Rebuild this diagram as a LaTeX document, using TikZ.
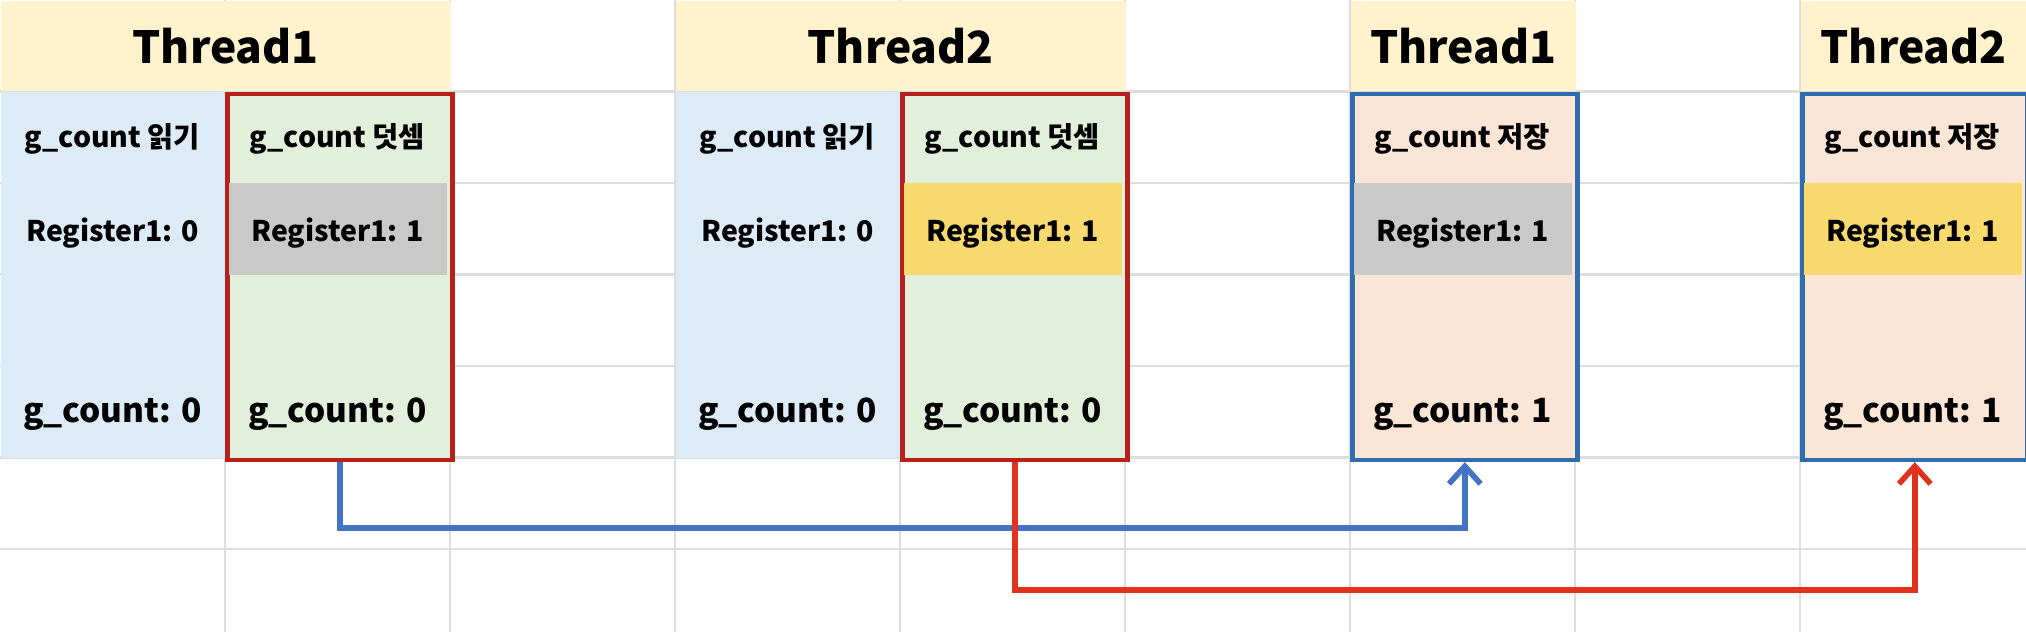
\documentclass[tikz,border=0pt]{standalone}
\usepackage{fontspec}
\setmainfont{Noto Sans CJK KR}
\usepackage{tikz}
\usetikzlibrary{positioning,arrows.meta}
\definecolor{gridgray}{HTML}{DDDDDD}
\definecolor{headfill}{HTML}{FFF2CC}
\definecolor{readfill}{HTML}{DDEBF7}
\definecolor{addfill}{HTML}{E2EFDA}
\definecolor{storefill}{HTML}{FBE5D6}
\definecolor{reggray}{HTML}{C9C9C9}
\definecolor{regyellow}{HTML}{F8D96E}
\definecolor{framered}{HTML}{B8211B}
\definecolor{frameblue}{HTML}{2E6DAE}
\definecolor{arrowblue}{HTML}{4472C4}
\definecolor{arrowred}{HTML}{E0321E}

\begin{document}
\begin{tikzpicture}[
    gridline/.style={draw=gridgray, line width=0.6pt},
    threadhead/.style={rectangle, fill=headfill, inner sep=0pt, minimum height=0.9cm, anchor=north west, font=\fontsize{12.6}{15}\selectfont\bfseries},
    colfill/.style={rectangle, fill=#1, inner sep=0pt, minimum width=2.25cm, minimum height=3.66cm, anchor=north west},
    boxframe/.style={draw=#1, line width=1.3pt},
    regband/.style={rectangle, fill=#1, inner sep=0pt, minimum width=2.18cm, minimum height=0.915cm},
    cellsmall/.style={font=\fontsize{8.1}{10}\selectfont\bfseries},
    cellbig/.style={font=\fontsize{9.5}{11}\selectfont\bfseries},
    linkarrow/.style={-{Straight Barb[length=5pt,width=9pt]}, line width=1.6pt, draw=#1}
]
\useasboundingbox (0,0) rectangle (20.26,-6.32);

\foreach \x in {1,...,8} \draw[gridline] (2.25*\x,0) -- (2.25*\x,-6.32);
\foreach \y in {1,...,6} \draw[gridline] (0,-0.915*\y) -- (20.26,-0.915*\y);

\node[threadhead, minimum width=4.5cm]  (head1) at (0,0)    {Thread1};
\node[threadhead, minimum width=4.5cm]  (head2) at (6.75,0) {Thread2};
\node[threadhead, minimum width=2.25cm] (head3) at (13.5,0) {Thread1};
\node[threadhead, minimum width=2.26cm] (head4) at (18,0)   {Thread2};

\node[colfill=readfill]                     (read1)  at (0,-0.915)    {};
\node[colfill=addfill, boxframe=framered]   (add1)   at (2.25,-0.915) {};
\node[colfill=readfill]                     (read2)  at (6.75,-0.915) {};
\node[colfill=addfill, boxframe=framered]   (add2)   at (9,-0.915)    {};
\node[colfill=storefill, boxframe=frameblue] (store1) at (13.5,-0.915) {};
\node[colfill=storefill, boxframe=frameblue] (store2) at (18,-0.915)   {};

\node[regband=reggray]   (band1) at (3.375,-2.2875)  {};
\node[regband=regyellow] (band2) at (10.125,-2.2875) {};
\node[regband=reggray]   (band3) at (14.625,-2.2875) {};
\node[regband=regyellow] (band4) at (19.125,-2.2875) {};

\node[cellsmall] (read1op)  at (1.125,-1.39)  {g\_count 읽기};
\node[cellsmall] (read1reg) at (1.125,-2.33)  {Register1: 0};
\node[cellbig]   (read1cnt) at (1.125,-4.14)  {g\_count: 0};
\node[cellsmall] (add1op)   at (3.375,-1.39)  {g\_count 덧셈};
\node[cellsmall] (add1reg)  at (3.375,-2.33)  {Register1: 1};
\node[cellbig]   (add1cnt)  at (3.375,-4.14)  {g\_count: 0};
\node[cellsmall] (read2op)  at (7.875,-1.39)  {g\_count 읽기};
\node[cellsmall] (read2reg) at (7.875,-2.33)  {Register1: 0};
\node[cellbig]   (read2cnt) at (7.875,-4.14)  {g\_count: 0};
\node[cellsmall] (add2op)   at (10.125,-1.39) {g\_count 덧셈};
\node[cellsmall] (add2reg)  at (10.125,-2.33) {Register1: 1};
\node[cellbig]   (add2cnt)  at (10.125,-4.14) {g\_count: 0};
\node[cellsmall] (store1op)  at (14.625,-1.39) {g\_count 저장};
\node[cellsmall] (store1reg) at (14.625,-2.33) {Register1: 1};
\node[cellbig]   (store1cnt) at (14.625,-4.14) {g\_count: 1};
\node[cellsmall] (store2op)  at (19.125,-1.39) {g\_count 저장};
\node[cellsmall] (store2reg) at (19.125,-2.33) {Register1: 1};
\node[cellbig]   (store2cnt) at (19.125,-4.14) {g\_count: 1};

\draw[linkarrow=arrowblue] (add1.south) -- ++(0,-0.66) -| (store1.south);
\draw[linkarrow=arrowred]  (add2.south) -- ++(0,-1.28) -| (store2.south);
\end{tikzpicture}
\end{document}
